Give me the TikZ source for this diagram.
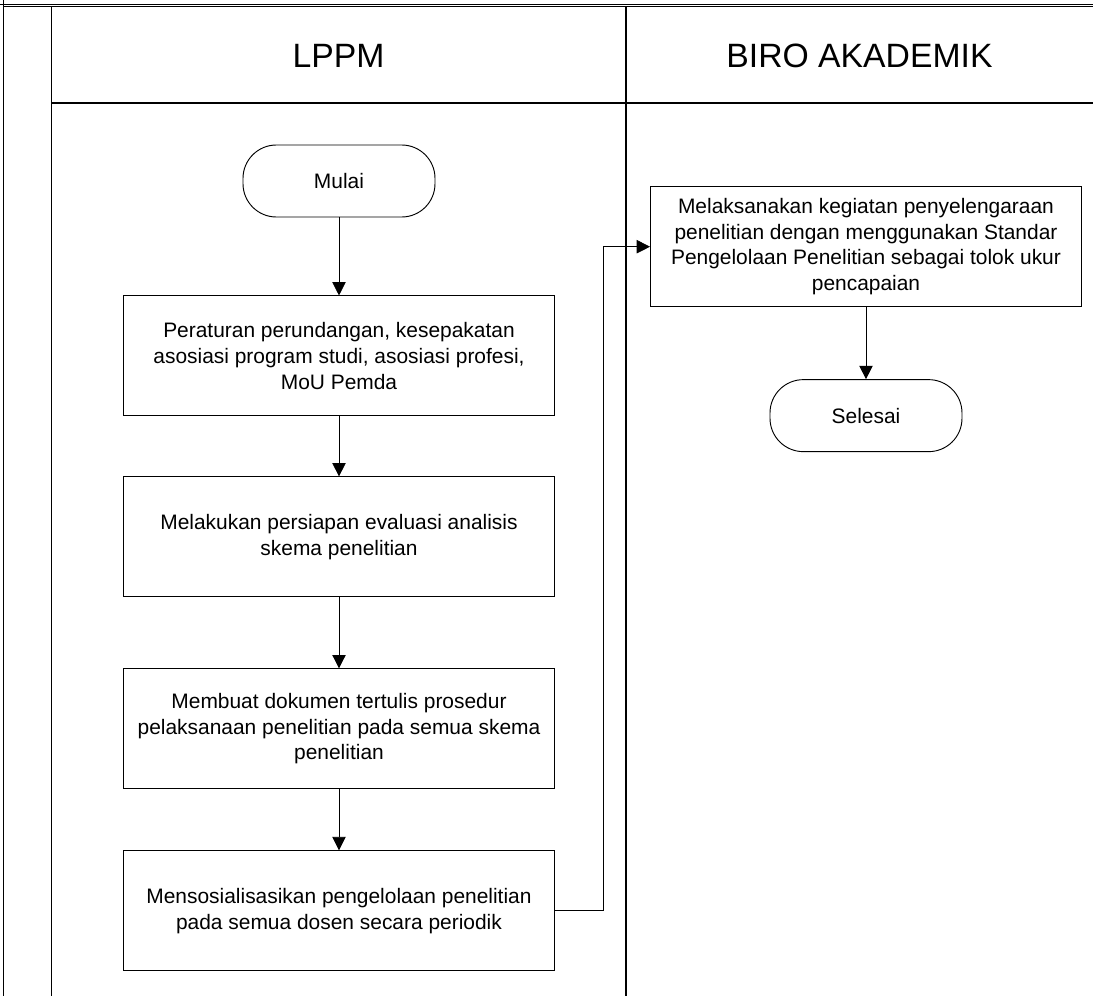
\documentclass[tikz,border=0pt]{standalone}
\usepackage{fontspec}
\setmainfont{Liberation Sans}
\usetikzlibrary{arrows.meta,positioning}

\begin{document}
\begin{tikzpicture}[
    x=0.75pt, y=-0.75pt,
    node distance=45pt,
    font=\fontsize{15.7}{19.3}\selectfont,
    stepbox/.style={rectangle, draw, line width=0.7pt, minimum width=323.25pt, minimum height=90pt, align=center, inner sep=2pt},
    terminal/.style={rectangle, draw, line width=0.7pt, rounded corners=25pt, minimum width=144pt, minimum height=54pt},
    header/.style={font=\fontsize{25.3}{30}\selectfont},
    lane/.style={line width=1.1pt},
    arrow/.style={-{Triangle[length=10pt,width=10pt]}, line width=0.6pt}
  ]
    \useasboundingbox (0,0) rectangle (1093,996);
    % swimlane frame
    \draw[line width=0.6pt] (0,4.7) -- (1093,4.7);
    \draw[line width=0.6pt] (3.5,6.8) -- (1093,6.8);
    \draw[lane] (3.5,0) -- (3.5,996);
    \draw[lane] (51.5,6.8) -- (51.5,996);
    \draw[lane] (626,6.8) -- (626,996);
    \draw[lane] (51.5,103) -- (1093,103);
    \node[header] (lppm) at (338.5,56) {LPPM};
    \node[header] (biro) at (859.5,56) {BIRO AKADEMIK};

    % LPPM lane
    \node[terminal] (mulai) at (339,181) {Mulai};
    \node[stepbox, below=58.5pt of mulai] (aturan) {Peraturan perundangan, kesepakatan\\asosiasi program studi, asosiasi profesi,\\MoU Pemda};
    \node[stepbox, below=45pt of aturan] (persiapan) {Melakukan persiapan evaluasi analisis\\skema penelitian};
    \node[stepbox, below=53.25pt of persiapan] (dokumen) {Membuat dokumen tertulis prosedur\\pelaksanaan penelitian pada semua skema\\penelitian};
    \node[stepbox, below=45.75pt of dokumen] (sosialisasi) {Mensosialisasikan pengelolaan penelitian\\pada semua dosen secara periodik};

    % Biro Akademik lane
    \node[stepbox] (laksana) at (866,246.7) {Melaksanakan kegiatan penyelengaraan\\penelitian dengan menggunakan Standar\\Pengelolaan Penelitian sebagai tolok ukur\\pencapaian};
    \node[terminal, below=54pt of laksana] (selesai) {Selesai};

    \draw[arrow] (mulai) -- (aturan);
    \draw[arrow] (aturan) -- (persiapan);
    \draw[arrow] (persiapan) -- (dokumen);
    \draw[arrow] (dokumen) -- (sosialisasi);
    \draw[arrow] (sosialisasi.east) -- ++(48,0) |- (laksana.west);
    \draw[arrow] (laksana) -- (selesai);
  \end{tikzpicture}
\end{document}
